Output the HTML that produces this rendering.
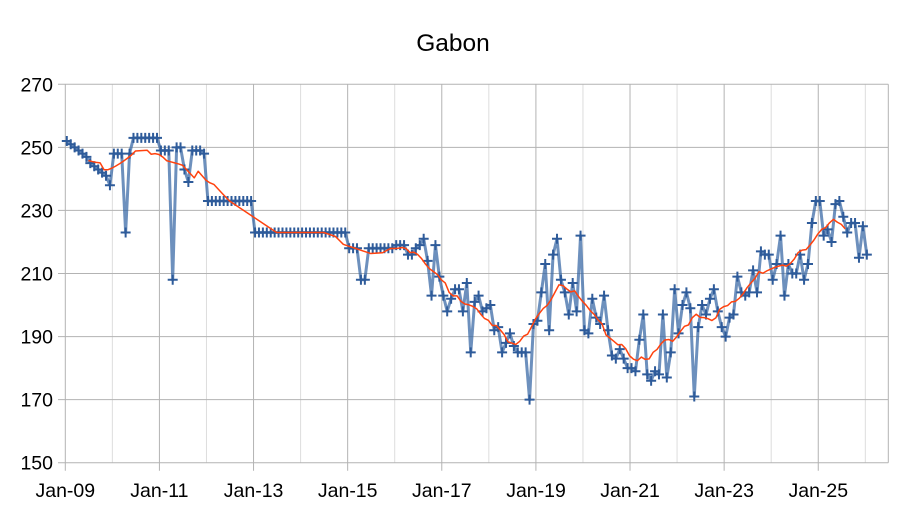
<!DOCTYPE html>
<html>
<head>
<meta charset="utf-8">
<style>
  html,body{margin:0;padding:0;background:#fff;}
  svg{display:block;}
  text{font-family:"Liberation Sans",Arial,sans-serif;fill:#000;}
</style>
</head>
<body>
<svg id="c" width="907" height="510" viewBox="0 0 907 510" xmlns="http://www.w3.org/2000/svg">
  <rect x="0" y="0" width="907" height="510" fill="#ffffff"/>
  <g id="grid"></g>
  <text x="453" y="51" font-size="24.5" text-anchor="middle">Gabon</text>
  <g font-size="19.5" text-anchor="end">
    <text x="53" y="91.3">270</text>
    <text x="53" y="154.4">250</text>
    <text x="53" y="217.4">230</text>
    <text x="53" y="280.5">210</text>
    <text x="53" y="343.6">190</text>
    <text x="53" y="406.6">170</text>
    <text x="53" y="469.7">150</text>
  </g>
  <g font-size="19.5" text-anchor="middle">
    <text x="65.3" y="497">Jan-09</text>
    <text x="159.4" y="497">Jan-11</text>
    <text x="253.6" y="497">Jan-13</text>
    <text x="347.7" y="497">Jan-15</text>
    <text x="441.8" y="497">Jan-17</text>
    <text x="536.0" y="497">Jan-19</text>
    <text x="630.1" y="497">Jan-21</text>
    <text x="724.2" y="497">Jan-23</text>
    <text x="818.3" y="497">Jan-25</text>
  </g>
  <g id="series"></g>
</svg>
<script>
(function(){
  var NS="http://www.w3.org/2000/svg";
  var grid=document.getElementById("grid");
  var ser=document.getElementById("series");
  function el(tag,attrs,parent){var e=document.createElementNS(NS,tag);for(var k in attrs)e.setAttribute(k,attrs[k]);parent.appendChild(e);return e;}
  var x0=65.3, yr=47.06, top=84.3, bot=462.7, right=888.3;
  function Y(v){return bot-(v-150)*(bot-top)/120;}
  // minor vertical
  for(var n=1;n<=17;n+=2){var x=x0+n*yr;el("line",{x1:x,y1:top,x2:x,y2:bot,stroke:"#dddddd","stroke-width":1},grid);}
  // horizontal grid
  for(var v=150;v<=270;v+=20){var y=Y(v);el("line",{x1:58,y1:y,x2:right,y2:y,stroke:"#b3b3b3","stroke-width":1},grid);}
  // major vertical
  for(var n=0;n<=16;n+=2){var x=x0+n*yr;el("line",{x1:x,y1:top,x2:x,y2:470.7,stroke:"#b3b3b3","stroke-width":1},grid);}
  el("line",{x1:right,y1:top,x2:right,y2:bot,stroke:"#b3b3b3","stroke-width":1},grid);

  var d=[
  252,251,250,249,248,247,245,244,243,242,241,238,
  248,248,248,223,248,253,253,253,253,253,253,253,
  249,249,249,208,250,250,243,239,249,249,249,248,
  233,233,233,233,233,233,233,233,233,233,233,233,
  223,223,223,223,223,223,223,223,223,223,223,223,
  223,223,223,223,223,223,223,223,223,223,223,223,
  218,218,218,208,208,218,218,218,218,218,218,218,
  219,219,219,216,216,218,219,221,214,203,219,209,
  203,198,202,205,205,198,207,185,201,203,198,199,
  200,192,193,185,188,191,187,185,185,185,170,194,
  195,204,213,192,216,221,208,204,197,207,198,222,
  192,191,202,196,194,203,192,184,183,186,183,180,
  180,179,189,197,178,176,179,178,197,177,185,205,
  191,200,204,199,171,193,200,197,202,205,198,193,
  190,196,197,209,204,203,204,211,204,217,216,216,
  208,213,222,203,213,210,210,216,208,213,226,233,
  233,222,224,220,232,233,228,223,226,226,215,225,
  216];
  var mon=yr/12;
  function X(k){return x0+1.5+k*mon;}
  var pts=[],cr="";
  for(var i=0;i<d.length;i++){
    var x=X(i),y=Y(d[i]);
    pts.push(x.toFixed(2)+","+y.toFixed(2));
    cr+="M"+(x-5).toFixed(2)+" "+y.toFixed(2)+"h10M"+x.toFixed(2)+" "+(y-5).toFixed(2)+"v10";
  }
  el("polyline",{points:pts.join(" "),fill:"none",stroke:"#3465a4","stroke-opacity":"0.72","stroke-width":3,"stroke-linejoin":"round"},ser);
  el("path",{d:cr,fill:"none",stroke:"#2e5b9a","stroke-width":2},ser);
  var ma=[];
  for(var i=11;i<d.length;i++){
    var s=0;for(var j=i-11;j<=i;j++)s+=d[j];
    ma.push(X(i-5.5).toFixed(2)+","+Y(s/12).toFixed(2));
  }
  el("polyline",{points:ma.join(" "),fill:"none",stroke:"#ff420e","stroke-width":1.5,"stroke-linejoin":"round"},ser);
})();
</script>
</body>
</html>
